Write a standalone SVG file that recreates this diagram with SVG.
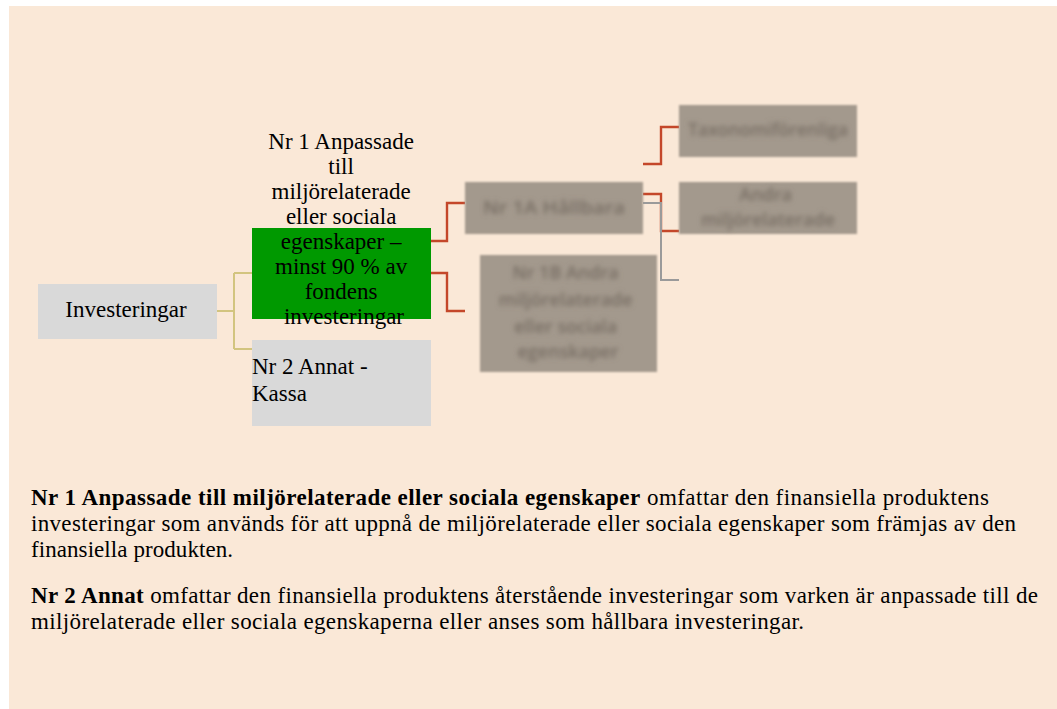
<svg xmlns="http://www.w3.org/2000/svg" width="1057" height="709" viewBox="0 0 1057 709">
  <defs>
    <filter id="blurBox" x="-10%" y="-10%" width="120%" height="120%">
      <feGaussianBlur stdDeviation="1.2"/>
    </filter>
    <filter id="blurText" x="-15%" y="-50%" width="130%" height="200%">
      <feGaussianBlur stdDeviation="2.4"/>
    </filter>
    <filter id="blurLine" x="-20%" y="-20%" width="140%" height="140%">
      <feGaussianBlur stdDeviation="0.5"/>
    </filter>
  </defs>
  <style>
    text.serif { font-family: 'Liberation Serif', 'DejaVu Serif', serif; fill: #000000; }
    .node { font-size: 23px; }
    .para { font-size: 23px; }
    .b { font-weight: bold; }
    .gbox { fill: #d9d9d9; }
    .fbox { fill: #a3998d; }
    text.ftext { font-family: 'Open Sans', 'Liberation Sans', sans-serif; font-size: 18px; font-weight: 600; fill: #766c62; text-anchor: middle; }
    .red { fill: none; stroke: #c4472b; stroke-width: 2.4; }
    .gray { fill: none; stroke: #9a9a9a; stroke-width: 2; }
    .gold { fill: none; stroke: #d2c47f; stroke-width: 2; }
  </style>

  <rect x="9" y="6" width="1048" height="703" fill="#fae8d7"/>

  <g id="connectors">
    <path class="gold" d="M217 311 H234 M234 273 V349 M234 273 H252 M234 349 H252"/>
    <g filter="url(#blurLine)">
      <path class="red" d="M430 241 H447 V203 H465"/>
      <path class="red" d="M430 273 H447 V311 H465"/>
      <path class="red" d="M643 164 H661 V127 H679"/>
      <path class="red" d="M643 194 H661 V231 H679"/>
      <path class="gray" d="M643 203 H661 V280 H679"/>
    </g>
  </g>

  <g id="node-investeringar">
    <rect class="gbox" x="38" y="284" width="179" height="55"/>
    <text class="serif node" font-family="Liberation Serif, serif" x="126" y="317" text-anchor="middle">Investeringar</text>
  </g>

  <g id="node-nr1">
    <rect x="252" y="228" width="179" height="91" fill="#009900"/>
    <text class="serif node" font-family="Liberation Serif, serif" text-anchor="middle">
      <tspan x="344" y="149.3">Nr 1 Anpassade</tspan>
      <tspan x="344" y="174.3">till</tspan>
      <tspan x="344" y="199.3">miljörelaterade</tspan>
      <tspan x="344" y="224.3">eller sociala</tspan>
      <tspan x="344" y="249.3">egenskaper –</tspan>
      <tspan x="344" y="274.3">minst 90 % av</tspan>
      <tspan x="344" y="299.3">fondens</tspan>
      <tspan x="344" y="324.3">investeringar</tspan>
    </text>
  </g>

  <g id="node-nr2">
    <rect class="gbox" x="252" y="340" width="179" height="86"/>
    <text class="serif node" font-family="Liberation Serif, serif">
      <tspan x="252" y="374">Nr 2 Annat -</tspan>
      <tspan x="252" y="401">Kassa</tspan>
    </text>
  </g>

  <g id="node-nr1a">
    <rect class="fbox" x="465" y="182" width="178" height="52" filter="url(#blurBox)"/>
    <text class="ftext" x="554" y="214" textLength="142" lengthAdjust="spacingAndGlyphs" filter="url(#blurText)">Nr 1A Hållbara</text>
  </g>

  <g id="node-nr1b">
    <rect class="fbox" x="480" y="255" width="177" height="117" filter="url(#blurBox)"/>
    <text class="ftext" filter="url(#blurText)">
      <tspan x="568" y="279">Nr 1B Andra</tspan>
      <tspan x="568" y="306">miljörelaterade</tspan>
      <tspan x="568" y="333">eller sociala</tspan>
      <tspan x="568" y="358">egenskaper</tspan>
    </text>
  </g>

  <g id="node-taxonomi">
    <rect class="fbox" x="679" y="105" width="178" height="52" filter="url(#blurBox)"/>
    <text class="ftext" x="768" y="136" textLength="160" lengthAdjust="spacingAndGlyphs" filter="url(#blurText)">Taxonomiförenliga</text>
  </g>

  <g id="node-andra">
    <rect class="fbox" x="679" y="182" width="178" height="52" filter="url(#blurBox)"/>
    <text class="ftext" filter="url(#blurText)">
      <tspan x="768" y="201">Andra</tspan>
      <tspan x="768" y="226">miljörelaterade</tspan>
    </text>
  </g>

  <g id="legend" font-family="Liberation Serif, serif">
    <text class="serif para" x="31" y="505" textLength="958" lengthAdjust="spacing"><tspan class="b">Nr 1 Anpassade till miljörelaterade eller sociala egenskaper</tspan> omfattar den finansiella produktens</text>
    <text class="serif para" x="31" y="531" textLength="985" lengthAdjust="spacing">investeringar som används för att uppnå de miljörelaterade eller sociala egenskaper som främjas av den</text>
    <text class="serif para" x="31" y="557" textLength="202" lengthAdjust="spacing">finansiella produkten.</text>
    <text class="serif para" x="31" y="603" textLength="1007" lengthAdjust="spacing"><tspan class="b">Nr 2 Annat</tspan> omfattar den finansiella produktens återstående investeringar som varken är anpassade till de</text>
    <text class="serif para" x="31" y="629" textLength="773" lengthAdjust="spacing">miljörelaterade eller sociala egenskaperna eller anses som hållbara investeringar.</text>
  </g>
</svg>
